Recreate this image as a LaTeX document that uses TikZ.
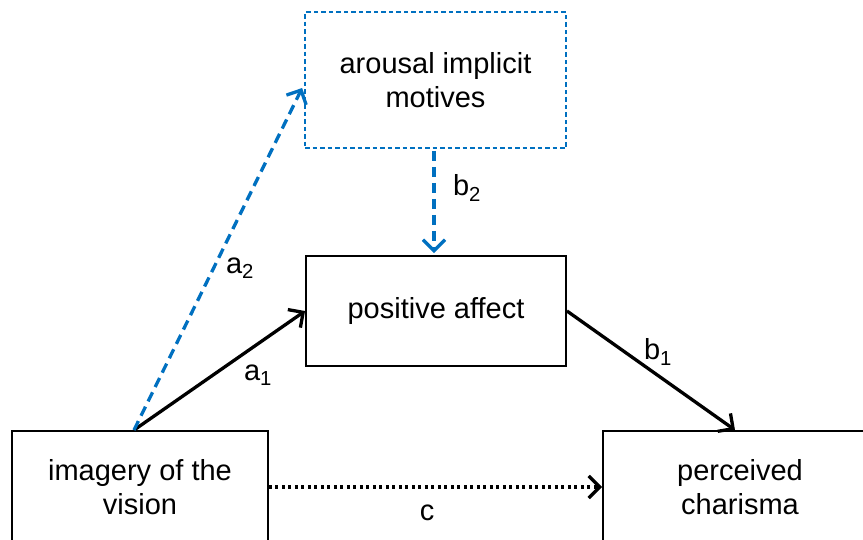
\documentclass[tikz,border=0pt]{standalone}
\usepackage{fontspec}
\setmainfont{Liberation Sans}
\usetikzlibrary{arrows.meta,calc}
\definecolor{myblue}{RGB}{0,112,192}
\begin{document}
\begin{tikzpicture}[x=1pt,y=-1pt,
  box/.style={draw=black,line width=1.9pt,align=center,inner sep=0pt,
    font=\fontsize{29}{34}\selectfont},
  dbox/.style={draw=myblue,line width=1.7pt,dash pattern=on 4.5pt off 3pt,align=center,inner sep=0pt,
    font=\fontsize{29}{34}\selectfont},
  tip/.style={-{Straight Barb[length=11pt,width=22pt,line width=3.3pt]}},
  arr/.style={line width=3.3pt,tip},
  barr/.style={arr,draw=myblue,dash pattern=on 10pt off 6pt},
  lab/.style={font=\fontsize{29}{34}\selectfont,inner sep=0pt}]
\useasboundingbox (0,0) rectangle (863,539);
\clip (0,0) rectangle (863,539);
\node[box,minimum width=256pt,minimum height=112pt] (img) at (140,487) {imagery of the\\vision};
\node[box,minimum width=274pt,minimum height=112pt] (chr) at (740,487) {perceived\\charisma};
\node[box,minimum width=260pt,minimum height=110pt] (pa) at (436,311) {positive affect};
\node[dbox,minimum width=261pt,minimum height=136pt] (aro) at (435.5,80) {arousal implicit\\motives};
\coordinate (s) at ($(img.north)+(-6,0)$);
\coordinate (a2end) at ($(aro.west)+(-2,8)$);
\coordinate (b2s) at ($(aro.south)+(-1.5,2)$);
\coordinate (b2e) at ($(pa.north)+(-2,-2)$);
\coordinate (b1e) at ($(chr.north)+(-5,0)$);
\draw[arr] (s) -- (pa.west);
\draw[barr] (s) -- (a2end);
\draw[barr] (b2s) -- (b2e);
\draw[arr] (pa.east) -- (b1e);
\draw[line width=3.3pt,dash pattern=on 3pt off 3.5pt,tip] (img.east) -- (chr.west);
\node[lab] at (240,268) {a\textsubscript{2}};
\node[lab] at (258,375) {a\textsubscript{1}};
\node[lab] at (467,188) {b\textsubscript{2}};
\node[lab] at (658,352) {b\textsubscript{1}};
\node[lab] at (427,513) {c};
\end{tikzpicture}
\end{document}
